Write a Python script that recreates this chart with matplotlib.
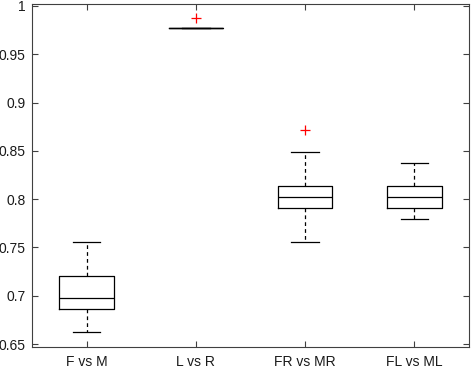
import matplotlib
matplotlib.use("Agg")
import matplotlib.pyplot as plt

plt.rcParams.update({
    "font.family": ["Liberation Sans", "DejaVu Sans"],
    "font.size": 10,
})

labels = ["F vs M", "L vs R", "FR vs MR", "FL vs ML"]
whis_lo = [0.663, 0.977, 0.756, 0.779]
q1 = [0.686, 0.977, 0.791, 0.791]
medians = [0.698, 0.977, 0.802, 0.802]
q3 = [0.721, 0.977, 0.814, 0.814]
whis_hi = [0.756, 0.977, 0.849, 0.837]
outliers = [[], [0.988], [0.872], []]

stats = []
for i in range(len(labels)):
    stats.append({
        "label": labels[i],
        "whislo": whis_lo[i],
        "q1": q1[i],
        "med": medians[i],
        "q3": q3[i],
        "whishi": whis_hi[i],
        "fliers": outliers[i],
    })

fig = plt.figure(figsize=(4.72, 3.68), dpi=100)
ax = fig.add_axes([32 / 472, 21 / 368, 437 / 472, 343 / 368])

axcol = "#404040"
ax.bxp(
    stats,
    positions=[1, 2, 3, 4],
    widths=0.5,
    showfliers=True,
    boxprops=dict(color="black", linewidth=0.9),
    medianprops=dict(color="black", linewidth=0.9),
    whiskerprops=dict(color="black", linewidth=0.9, linestyle=(0, (3, 2.5))),
    capprops=dict(color="black", linewidth=0.9),
    capwidths=0.25,
    flierprops=dict(marker="+", markeredgecolor="red", markersize=7, markeredgewidth=0.9),
)

ax.set_xlim(0.5, 4.5)
ax.set_ylim(0.647, 1.002)
ax.set_yticks([0.65, 0.7, 0.75, 0.8, 0.85, 0.9, 0.95, 1.0])
ax.set_yticklabels(["0.65", "0.7", "0.75", "0.8", "0.85", "0.9", "0.95", "1"])
ax.tick_params(direction="in", top=True, right=True, length=4, width=0.8,
               colors=axcol, labelcolor="#1a1a1a", labelsize=10)
ax.tick_params(axis="x", pad=5.5)
ax.tick_params(axis="y", pad=4.5)
for s in ax.spines.values():
    s.set_color(axcol)
    s.set_linewidth(0.8)

fig.savefig("out.png", dpi=100)
